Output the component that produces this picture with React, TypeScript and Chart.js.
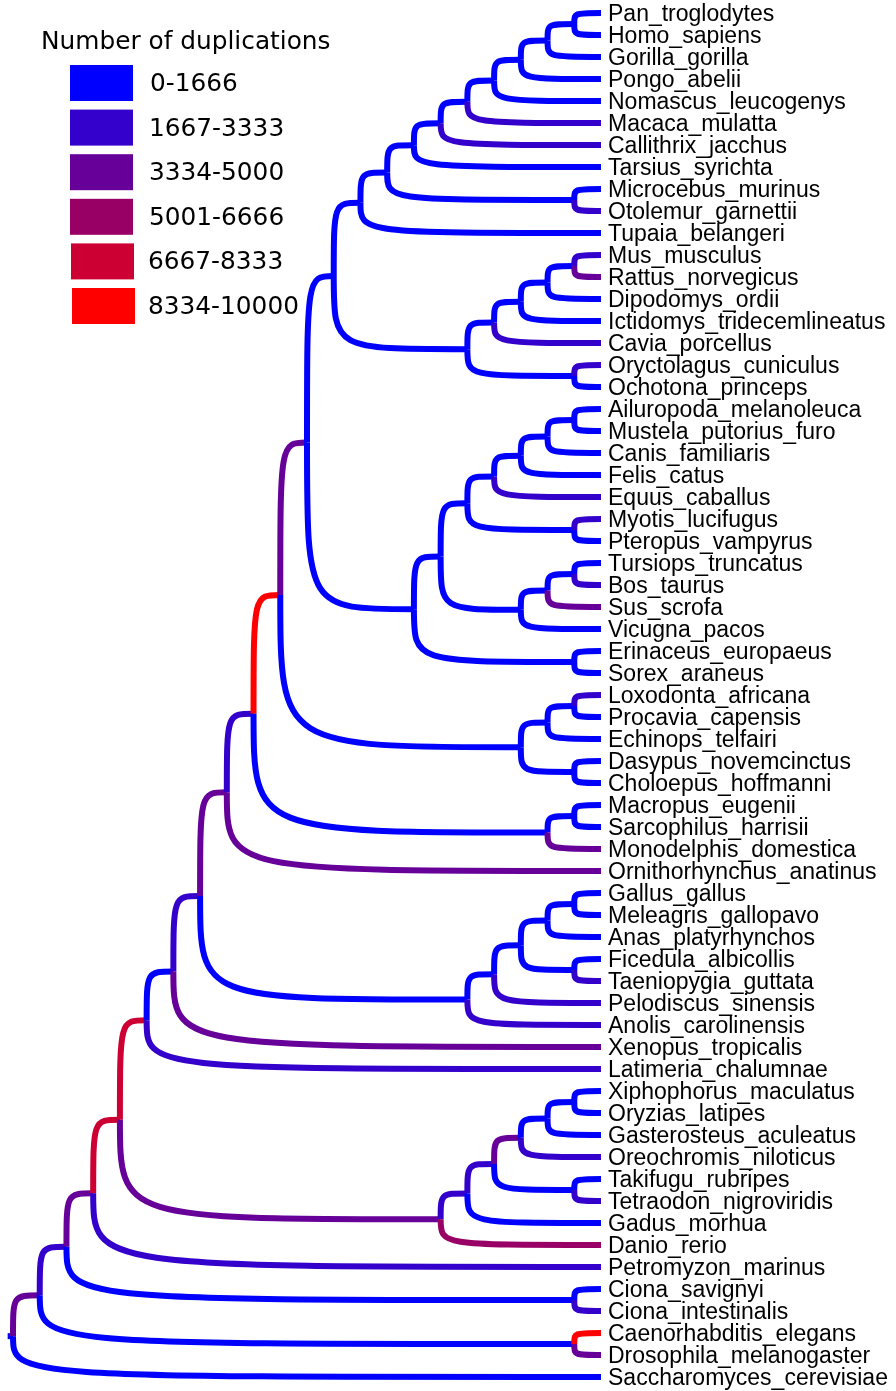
import { useEffect, useRef } from "react";
import { Chart, registerables } from "chart.js";

Chart.register(...registerables);

// Leaves, top to bottom
const leaves = [
  "Pan_troglodytes", "Homo_sapiens", "Gorilla_gorilla", "Pongo_abelii", "Nomascus_leucogenys",
  "Macaca_mulatta", "Callithrix_jacchus", "Tarsius_syrichta", "Microcebus_murinus", "Otolemur_garnettii",
  "Tupaia_belangeri", "Mus_musculus", "Rattus_norvegicus", "Dipodomys_ordii", "Ictidomys_tridecemlineatus",
  "Cavia_porcellus", "Oryctolagus_cuniculus", "Ochotona_princeps", "Ailuropoda_melanoleuca", "Mustela_putorius_furo",
  "Canis_familiaris", "Felis_catus", "Equus_caballus", "Myotis_lucifugus", "Pteropus_vampyrus",
  "Tursiops_truncatus", "Bos_taurus", "Sus_scrofa", "Vicugna_pacos", "Erinaceus_europaeus",
  "Sorex_araneus", "Loxodonta_africana", "Procavia_capensis", "Echinops_telfairi", "Dasypus_novemcinctus",
  "Choloepus_hoffmanni", "Macropus_eugenii", "Sarcophilus_harrisii", "Monodelphis_domestica", "Ornithorhynchus_anatinus",
  "Gallus_gallus", "Meleagris_gallopavo", "Anas_platyrhynchos", "Ficedula_albicollis", "Taeniopygia_guttata",
  "Pelodiscus_sinensis", "Anolis_carolinensis", "Xenopus_tropicalis", "Latimeria_chalumnae", "Xiphophorus_maculatus",
  "Oryzias_latipes", "Gasterosteus_aculeatus", "Oreochromis_niloticus", "Takifugu_rubripes", "Tetraodon_nigroviridis",
  "Gadus_morhua", "Danio_rerio", "Petromyzon_marinus", "Ciona_savignyi", "Ciona_intestinalis",
  "Caenorhabditis_elegans", "Drosophila_melanogaster", "Saccharomyces_cerevisiae",
];

// Duplication bin (0..5) of each terminal branch
const leafBins = [
  0, 0, 0, 0, 0,
  1, 1, 0, 0, 1,
  0, 1, 2, 0, 0,
  1, 1, 0, 0, 0,
  0, 0, 1, 1, 0,
  0, 1, 2, 0, 0,
  0, 1, 0, 0, 0,
  0, 0, 0, 2, 2,
  0, 0, 0, 0, 1,
  1, 1, 2, 1, 0,
  0, 0, 1, 0, 1,
  0, 3, 1, 0, 1,
  5, 2, 0,
];

// Internal nodes: [name, upper child, lower child]
const clades: [string, string, string][] = [
  ["Hominini", "Pan_troglodytes", "Homo_sapiens"],
  ["Homininae", "Hominini", "Gorilla_gorilla"],
  ["Hominidae", "Homininae", "Pongo_abelii"],
  ["Hominoidea", "Hominidae", "Nomascus_leucogenys"],
  ["Catarrhini", "Hominoidea", "Macaca_mulatta"],
  ["Simiiformes", "Catarrhini", "Callithrix_jacchus"],
  ["Haplorhini", "Simiiformes", "Tarsius_syrichta"],
  ["Strepsirrhini", "Microcebus_murinus", "Otolemur_garnettii"],
  ["Primates", "Haplorhini", "Strepsirrhini"],
  ["Euarchonta", "Primates", "Tupaia_belangeri"],
  ["Murinae", "Mus_musculus", "Rattus_norvegicus"],
  ["Myodonta", "Murinae", "Dipodomys_ordii"],
  ["Sciurognathi", "Myodonta", "Ictidomys_tridecemlineatus"],
  ["Rodentia", "Sciurognathi", "Cavia_porcellus"],
  ["Lagomorpha", "Oryctolagus_cuniculus", "Ochotona_princeps"],
  ["Glires", "Rodentia", "Lagomorpha"],
  ["Euarchontoglires", "Euarchonta", "Glires"],
  ["Musteloidea", "Ailuropoda_melanoleuca", "Mustela_putorius_furo"],
  ["Caniformia", "Musteloidea", "Canis_familiaris"],
  ["Carnivora", "Caniformia", "Felis_catus"],
  ["Zooamata", "Carnivora", "Equus_caballus"],
  ["Chiroptera", "Myotis_lucifugus", "Pteropus_vampyrus"],
  ["Pegasoferae", "Zooamata", "Chiroptera"],
  ["Cetruminantia", "Tursiops_truncatus", "Bos_taurus"],
  ["Artiofabula", "Cetruminantia", "Sus_scrofa"],
  ["Cetartiodactyla", "Artiofabula", "Vicugna_pacos"],
  ["Fereuungulata", "Pegasoferae", "Cetartiodactyla"],
  ["Eulipotyphla", "Erinaceus_europaeus", "Sorex_araneus"],
  ["Laurasiatheria", "Fereuungulata", "Eulipotyphla"],
  ["Boreoeutheria", "Euarchontoglires", "Laurasiatheria"],
  ["Paenungulata", "Loxodonta_africana", "Procavia_capensis"],
  ["Afrotheria", "Paenungulata", "Echinops_telfairi"],
  ["Xenarthra", "Dasypus_novemcinctus", "Choloepus_hoffmanni"],
  ["Atlantogenata", "Afrotheria", "Xenarthra"],
  ["Eutheria", "Boreoeutheria", "Atlantogenata"],
  ["Australidelphia", "Macropus_eugenii", "Sarcophilus_harrisii"],
  ["Marsupialia", "Australidelphia", "Monodelphis_domestica"],
  ["Theria", "Eutheria", "Marsupialia"],
  ["Mammalia", "Theria", "Ornithorhynchus_anatinus"],
  ["Phasianidae", "Gallus_gallus", "Meleagris_gallopavo"],
  ["Galloanserae", "Phasianidae", "Anas_platyrhynchos"],
  ["Passeriformes", "Ficedula_albicollis", "Taeniopygia_guttata"],
  ["Neognathae", "Galloanserae", "Passeriformes"],
  ["Archelosauria", "Neognathae", "Pelodiscus_sinensis"],
  ["Sauria", "Archelosauria", "Anolis_carolinensis"],
  ["Amniota", "Mammalia", "Sauria"],
  ["Tetrapoda", "Amniota", "Xenopus_tropicalis"],
  ["Sarcopterygii", "Tetrapoda", "Latimeria_chalumnae"],
  ["Atherinomorphae", "Xiphophorus_maculatus", "Oryzias_latipes"],
  ["Ovalentaria", "Atherinomorphae", "Gasterosteus_aculeatus"],
  ["Percomorpha4", "Ovalentaria", "Oreochromis_niloticus"],
  ["Tetraodontidae", "Takifugu_rubripes", "Tetraodon_nigroviridis"],
  ["Percomorpha", "Percomorpha4", "Tetraodontidae"],
  ["Acanthomorpha", "Percomorpha", "Gadus_morhua"],
  ["Clupeocephala", "Acanthomorpha", "Danio_rerio"],
  ["Osteichthyes", "Sarcopterygii", "Clupeocephala"],
  ["Vertebrata", "Osteichthyes", "Petromyzon_marinus"],
  ["Tunicata", "Ciona_savignyi", "Ciona_intestinalis"],
  ["Chordata", "Vertebrata", "Tunicata"],
  ["Ecdysozoa", "Caenorhabditis_elegans", "Drosophila_melanogaster"],
  ["Bilateria", "Chordata", "Ecdysozoa"],
  ["Opisthokonta", "Bilateria", "Saccharomyces_cerevisiae"],
];

// Duplication bin of the branch leading to each internal node
const cladeBins = [
  0, 0, 0, 0, 0, 0, 0, 0, 0, 0,
  0, 0, 0, 0, 0, 0, 0, 0, 0, 0,
  0, 0, 0, 0, 0, 0, 0, 0, 0, 2,
  0, 0, 0, 0, 5, 0, 0, 1, 2, 0,
  0, 0, 0, 0, 0, 1, 0, 4, 0, 0,
  2, 0, 1, 1, 2, 4, 2, 0, 1, 0,
  2, 0,
];

const binLabels = ["0-1666", "1667-3333", "3334-5000", "5001-6666", "6667-8333", "8334-10000"];
const binColors = ["#0000FF", "#3300CC", "#660099", "#990066", "#CC0033", "#FF0000"];
const legendTitle = "Number of duplications";
const rootStubLength = 0.2;

type Pt = { x: number; y: number };
type Edge = { data: Pt[]; color: string };

function buildEdges(): Edge[] {
  const pos: Record<string, { h: number; y: number; bin: number; kids: string[] }> = {};
  leaves.forEach((n, i) => {
    pos[n] = { h: 0, y: i, bin: leafBins[i], kids: [] };
  });
  clades.forEach(([n, a, b], i) => {
    pos[n] = {
      h: Math.max(pos[a].h, pos[b].h) + 1,
      y: (pos[a].y + pos[b].y) / 2,
      bin: cladeBins[i],
      kids: [a, b],
    };
  });
  const root = clades[clades.length - 1][0];
  const H = pos[root].h;
  const edges: Edge[] = [];
  edges.push({
    data: [
      { x: -rootStubLength, y: pos[root].y },
      { x: 0, y: pos[root].y },
    ],
    color: binColors[pos[root].bin],
  });
  const walk = (n: string) => {
    const p = pos[n];
    for (const k of p.kids) {
      const c = pos[k];
      edges.push({
        data: [
          { x: H - p.h, y: p.y },
          { x: H - p.h, y: c.y },
          { x: H - c.h, y: c.y },
        ],
        color: binColors[c.bin],
      });
    }
    for (const k of p.kids) walk(k);
  };
  walk(root);
  return edges;
}

const W = 896;
const HGT = 1391;
const LEAF_PX = 601;
const ROOT_PX = 13;
const TOP_PX = 13;
const ROW_PX = 22;

const treePlugin = {
  id: "treeEdges",
  afterDatasetsDraw(chart: any) {
    const ctx = chart.ctx as CanvasRenderingContext2D;
    ctx.save();
    ctx.lineWidth = 6;
    ctx.lineCap = "butt";
    ctx.lineJoin = "round";
    chart.data.datasets.forEach((ds: any, i: number) => {
      const pts = chart.getDatasetMeta(i).data;
      if (!pts || pts.length < 2) return;
      ctx.strokeStyle = ds.borderColor;
      ctx.beginPath();
      ctx.moveTo(pts[0].x, pts[0].y);
      if (pts.length === 3) {
        ctx.bezierCurveTo(pts[1].x, pts[1].y, pts[1].x, pts[1].y, pts[2].x, pts[2].y);
      } else {
        ctx.lineTo(pts[1].x, pts[1].y);
      }
      ctx.stroke();
    });
    ctx.restore();
  },
};

const legendPlugin = {
  id: "dupLegend",
  afterDraw(chart: any) {
    const ctx = chart.ctx as CanvasRenderingContext2D;
    ctx.save();
    ctx.fillStyle = "#000";
    ctx.textBaseline = "alphabetic";
    ctx.textAlign = "left";
    ctx.font = "24.8px 'DejaVu Sans', sans-serif";
    ctx.fillText(legendTitle, 41, 49);
    binLabels.forEach((lab, i) => {
      const top = 65 + i * 44.6;
      const sx = i >= 4 ? 70 + (i - 3) : 70;
      ctx.fillStyle = binColors[i];
      ctx.fillRect(sx, top, 63, 36);
      ctx.fillStyle = "#000";
      ctx.fillText(lab, i >= 4 ? 148 : i === 0 ? 150 : 149, top + 26);
    });
    ctx.restore();
  },
};

export default function App() {
  const ref = useRef<HTMLCanvasElement | null>(null);
  useEffect(() => {
    if (!ref.current) return;
    const edges = buildEdges();
    const unitX = (LEAF_PX - ROOT_PX) / 22;
    const chart = new Chart(ref.current, {
      type: "line",
      data: {
        datasets: edges.map((e) => ({
          data: e.data,
          borderColor: e.color,
          backgroundColor: e.color,
          showLine: false,
          pointRadius: 0,
          pointHoverRadius: 0,
          parsing: false as any,
        })),
      },
      options: {
        animation: false,
        responsive: false,
        devicePixelRatio: 1,
        events: [],
        layout: { padding: 0 },
        plugins: {
          legend: { display: false },
          tooltip: { enabled: false },
        },
        scales: {
          x: {
            type: "linear",
            display: false,
            min: -ROOT_PX / unitX,
            max: 22,
          },
          y: {
            type: "linear",
            position: "right",
            reverse: true,
            min: -TOP_PX / ROW_PX,
            max: (HGT - TOP_PX) / ROW_PX,
            afterBuildTicks: (s: any) => {
              s.ticks = leaves.map((_, i) => ({ value: i }));
            },
            afterFit: (s: any) => {
              s.width = W - LEAF_PX;
              s.paddingTop = 0;
              s.paddingBottom = 0;
            },
            grid: { display: false, drawTicks: false },
            border: { display: false },
            ticks: {
              autoSkip: false,
              padding: 7,
              labelOffset: 2,
              color: "#000",
              font: { family: "'Liberation Sans', Arial, Helvetica, sans-serif", size: 23 },
              callback: (v: any) => leaves[v as number] ?? "",
            },
          },
        },
      },
      plugins: [treePlugin, legendPlugin],
    });
    return () => chart.destroy();
  }, []);
  return (
    <div style={{ position: "absolute", left: 0, top: 0, width: W, height: HGT, background: "#fff" }}>
      <canvas ref={ref} width={W} height={HGT} style={{ display: "block" }} />
    </div>
  );
}
